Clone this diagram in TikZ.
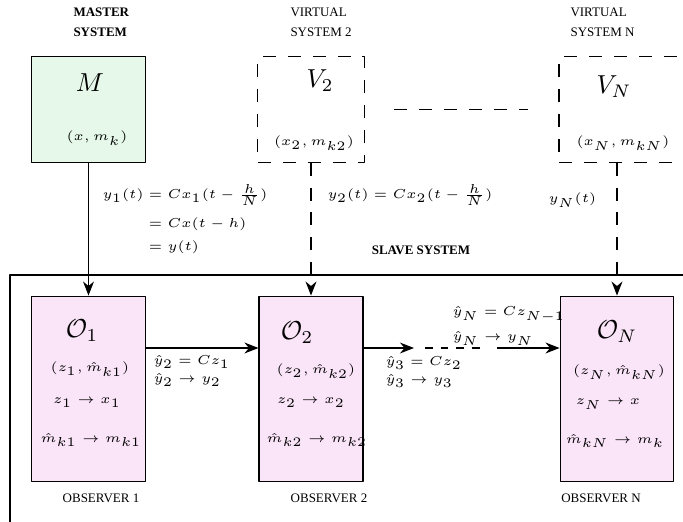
\documentclass[tikz,border=0pt]{standalone}
\usepackage{amsmath}
\usepackage[no-math]{fontspec}
\newfontfamily\capfont{Liberation Serif}
\usetikzlibrary{arrows.meta}
\definecolor{mastergreen}{RGB}{229,248,234}
\definecolor{obspink}{RGB}{250,228,248}
\begin{document}
\begin{tikzpicture}[x=0.3846pt, y=-0.3846pt, font=\tiny, line join=round,
		>={Stealth[length=5.4pt,width=4.2pt]},
		longdash/.style={dash pattern=on 5pt off 4.6pt},
		sysbox/.style={draw, inner sep=0pt, minimum height=40.4pt},
		obsbox/.style={draw, fill=obspink, inner sep=0pt, minimum height=71.5pt},
		eqtext/.style={inner sep=0pt},
		lbltext/.style={inner sep=0pt, font=\tiny\capfont, align=left}]
	\useasboundingbox (0,0) rectangle (683,522);
	\clip (0,0) rectangle (683,522);
	% top row: master and virtual systems
	\node[sysbox, fill=mastergreen, minimum width=44.2pt] (M) at (88.5,109.5) {};
	\node[sysbox, longdash, minimum width=40.8pt] (V2) at (311,109.5) {};
	\node[sysbox, longdash, minimum width=50.4pt] (VN) at (624.5,109.5) {};
	\node[lbltext, font=\tiny\capfont\bfseries, anchor=west] (mlbl) at (73,22) {MASTER\\[1.7pt]SYSTEM};
	\node[lbltext, anchor=west] (v2lbl) at (290,22) {VIRTUAL\\[1.7pt]SYSTEM 2};
	\node[lbltext, anchor=west] (vnlbl) at (570,22) {VIRTUAL\\[1.7pt]SYSTEM N};
	\node[eqtext, font=\normalsize] (Mname) at (90,83) {$M$};
	\node[eqtext] (Mstate) at (97,138) {$(x,m_k)$};
	\node[eqtext, font=\normalsize] (V2name) at (320,81) {$V_2$};
	\node[eqtext] (V2state) at (314,143) {$(x_2,m_{k2})$};
	\node[eqtext, font=\normalsize] (VNname) at (614,87) {$V_N$};
	\node[eqtext] (VNstate) at (623,143) {$(x_N,m_{kN})$};
	\draw[longdash] ([xshift=11.5pt]V2.east) -- ([xshift=-11.9pt]VN.west);
	% slave system
	\draw (10,540) -- (10,275) -- (700,275);
	\node[lbltext, font=\tiny\capfont\bfseries] (slave) at (421,250) {SLAVE SYSTEM};
	\node[obsbox, minimum width=44.2pt] (O1) at (88.5,389) {};
	\node[obsbox, minimum width=40pt] (O2) at (311,389) {};
	\node[obsbox, minimum width=43.8pt] (ON) at (617,389) {};
	\node[eqtext, font=\normalsize] (O1name) at (82,331) {$\mathcal{O}_1$};
	\node[eqtext] (O1state) at (90,369) {$(z_1,\hat m_{k1})$};
	\node[eqtext] (O1z) at (87,403) {$z_1\to x_1$};
	\node[eqtext] (O1m) at (91,440) {$\hat m_{k1}\to m_{k1}$};
	\node[eqtext, font=\normalsize] (O2name) at (297,333) {$\mathcal{O}_2$};
	\node[eqtext] (O2state) at (316,371) {$(z_2,\hat m_{k2})$};
	\node[eqtext] (O2z) at (311,403) {$z_2\to x_2$};
	\node[eqtext] (O2m) at (317,440) {$\hat m_{k2}\to m_{k2}$};
	\node[eqtext, font=\normalsize] (ONname) at (617,332) {$\mathcal{O}_N$};
	\node[eqtext] (ONstate) at (619,372) {$(z_N,\hat m_{kN})$};
	\node[eqtext] (ONz) at (608,404) {$z_N\to x$};
	\node[eqtext] (ONm) at (615,441) {$\hat m_{kN}\to m_k$};
	\node[lbltext] (o1lbl) at (101,498) {OBSERVER 1};
	\node[lbltext] (o2lbl) at (329,498) {OBSERVER 2};
	\node[lbltext] (onlbl) at (601,498) {OBSERVER N};
	% outputs
	\draw[->] (M) -- (O1);
	\draw[->, longdash] (V2) -- (O2);
	\draw[->, longdash] (ON.north |- VN.south) -- (ON.north);
	\node[eqtext, anchor=west] (y1) at (102,220) {$\begin{aligned} y_1(t) &= Cx_1(t-\tfrac{h}{N})\\ &= Cx(t-h)\\ &= y(t)\end{aligned}$};
	\node[eqtext, anchor=west] (y2) at (327,195) {$y_2(t) = Cx_2(t-\frac{h}{N})$};
	\node[eqtext, anchor=west] (yN) at (548,200) {$y_N(t)$};
	% observer chain
	\coordinate (lvl) at (0,348);
	\coordinate (g1) at (414,348);
	\coordinate (g2) at (425,348);
	\coordinate (g3) at (480,348);
	\coordinate (g4) at (497,348);
	\draw[->] (O1.east |- lvl) -- (O2.west |- lvl);
	\draw[->] (O2.east |- lvl) -- (g1);
	\draw[dashed] (g2) -- (g3);
	\draw[->] (g4) -- (ON.west |- lvl);
	\node[eqtext, anchor=west, align=left] (e12) at (153,371) {$\hat y_2 = Cz_1$\\[1pt]$\hat y_2\to y_2$};
	\node[eqtext, anchor=west, align=left] (e23) at (385,372) {$\hat y_3 = Cz_2$\\[1pt]$\hat y_3\to y_3$};
	\node[eqtext, anchor=west, align=left] (eN) at (452,326) {$\hat y_N = Cz_{N-1}$\\[2.5pt]$\hat y_N\to y_N$};
\end{tikzpicture}
\end{document}
